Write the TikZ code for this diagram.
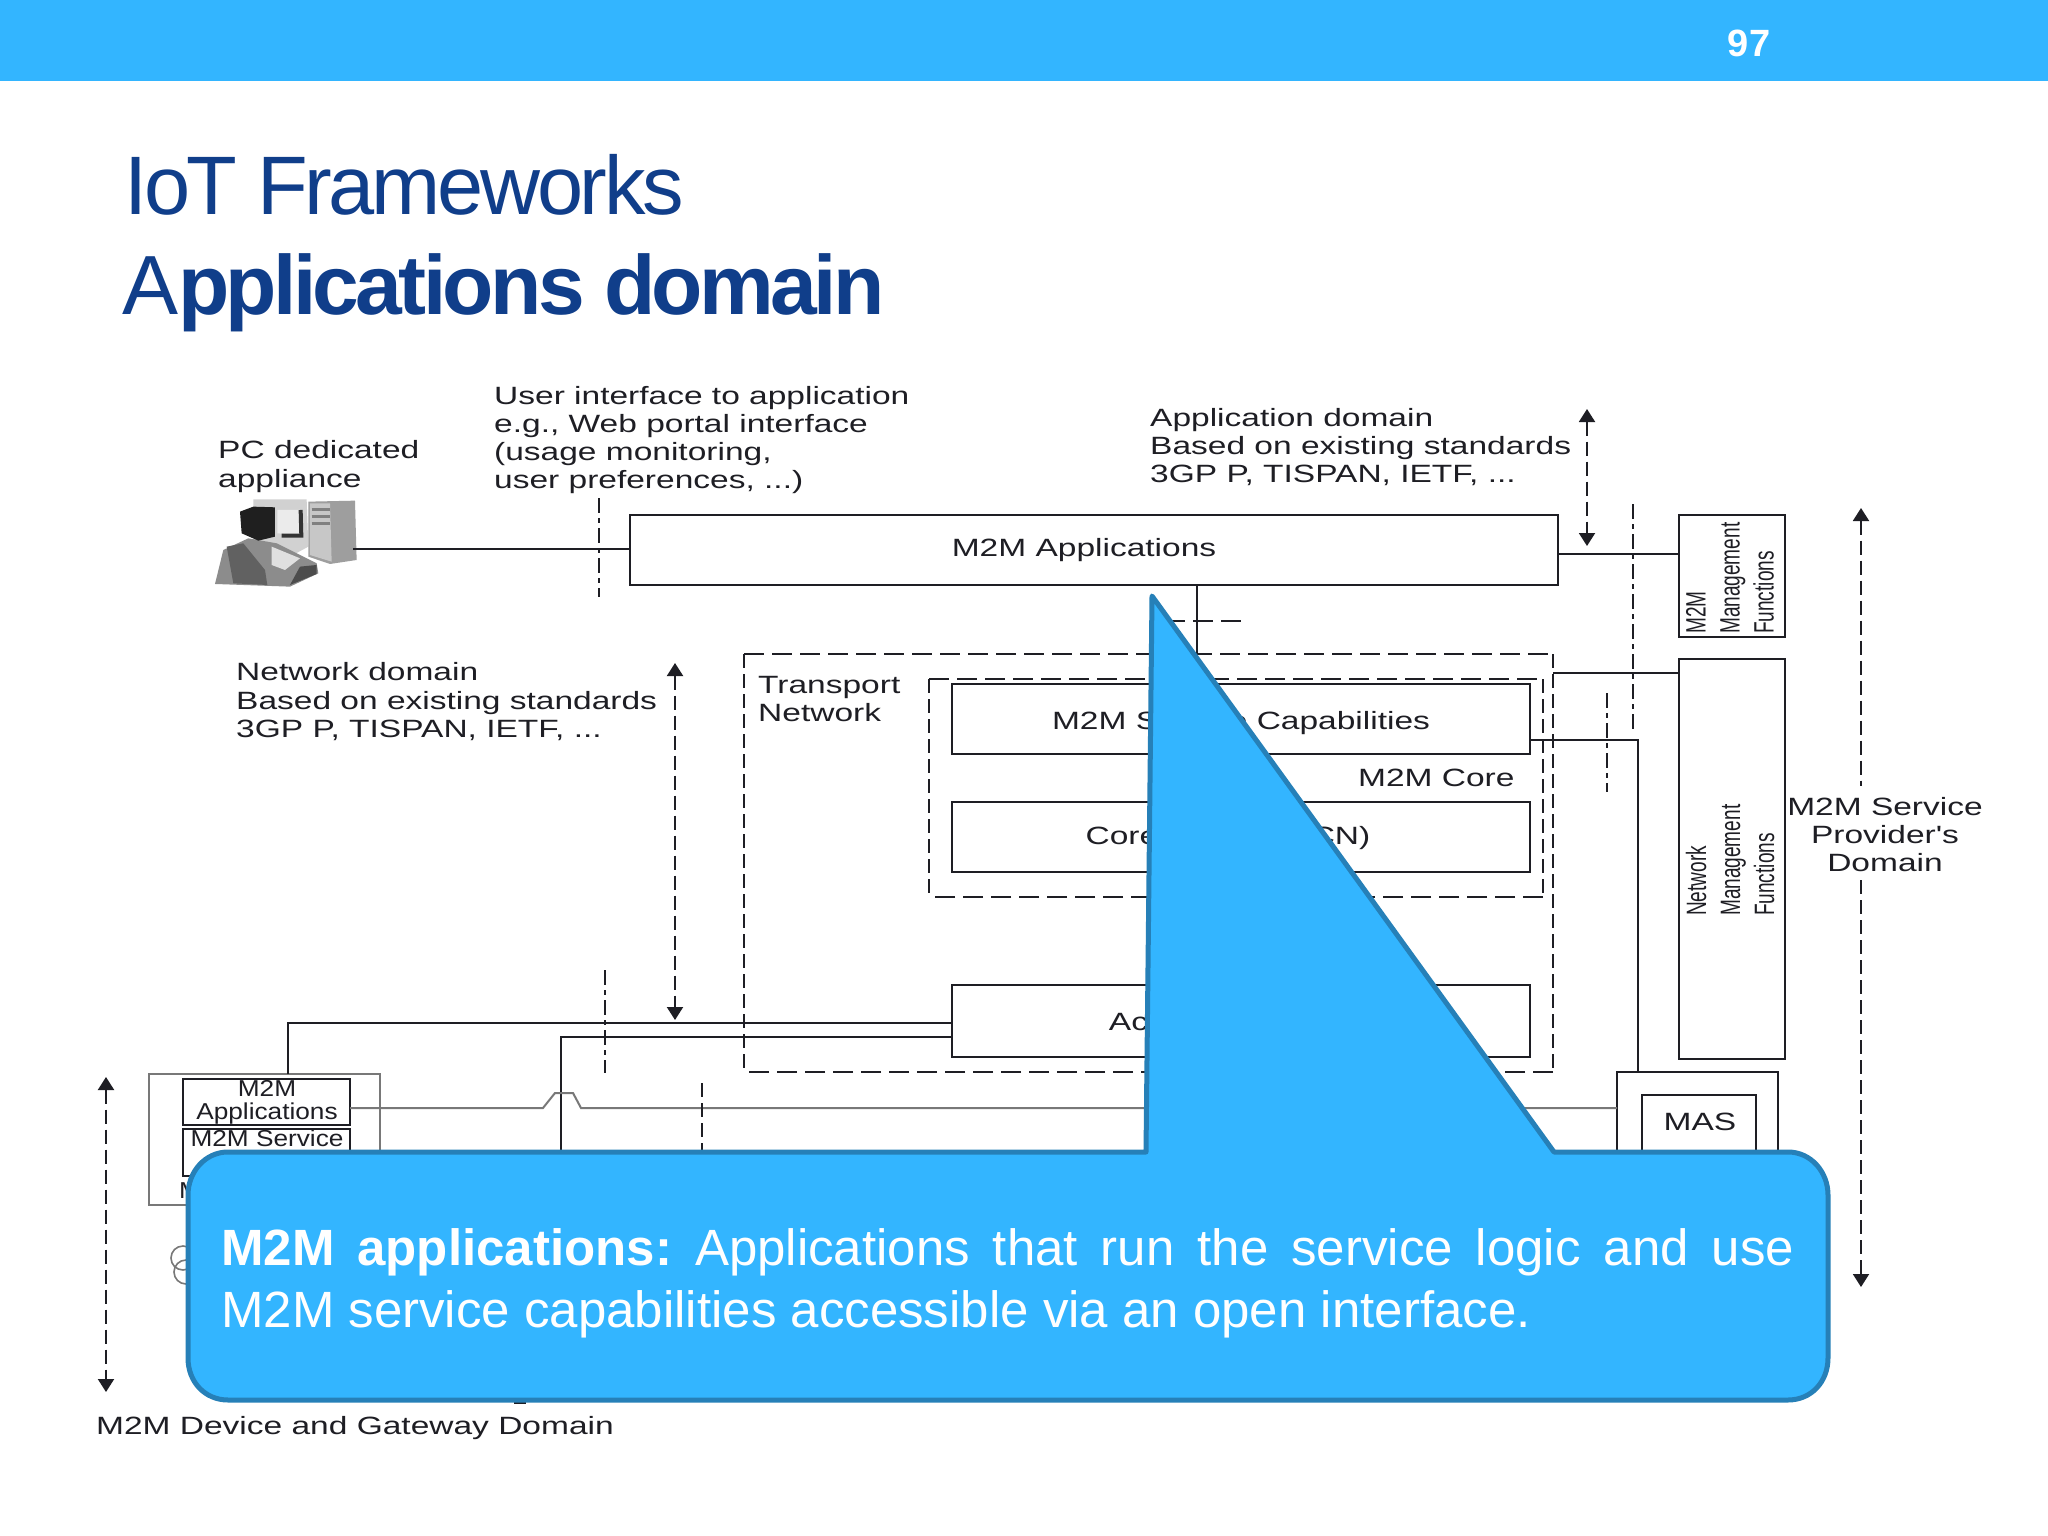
\documentclass[tikz,border=0pt]{standalone}
\usepackage{fontspec}
\setmainfont{Liberation Sans}
\newfontfamily\wide[FakeStretch=1.34]{Liberation Sans}
\newfontfamily\midw[FakeStretch=1.14]{Liberation Sans}
\newfontfamily\narrow[FakeStretch=0.68]{Liberation Sans}
\usetikzlibrary{arrows.meta,positioning}
\definecolor{barblue}{RGB}{51,181,255}
\definecolor{edgeblue}{RGB}{38,128,184}
\definecolor{titleblue}{RGB}{16,62,138}
\definecolor{ink}{RGB}{30,30,36}
\definecolor{wire}{RGB}{120,120,120}
\tikzset{
  x=1pt,y=-1pt,
  box/.style={draw=ink,line width=2.4pt,fill=white,anchor=north west,inner sep=0pt,outer sep=0pt},
  zone/.style={anchor=north west,inner sep=0pt,outer sep=0pt},
  lbl/.style={anchor=base west,inner sep=0pt,text=ink,font=\wide\fontsize{25}{29}\selectfont},
  clbl/.style={anchor=base,inner sep=0pt,text=ink,font=\wide\fontsize{25}{29}\selectfont},
  small/.style={anchor=base,inner sep=0pt,text=ink,font=\midw\fontsize{23}{23}\selectfont},
  rlbl/.style={rotate=90,anchor=west,inner sep=0pt,text=ink,align=left,font=\narrow\fontsize{28}{34}\selectfont},
  line/.style={draw=ink,line width=2pt},
  gline/.style={draw=wire,line width=2pt},
  dh/.style={draw=ink,line width=2pt,dash pattern=on 20pt off 8pt},
  dv/.style={draw=ink,line width=2pt,dash pattern=on 14pt off 6pt},
  dd/.style={draw=ink,line width=2.4pt,dash pattern=on 15pt off 5pt on 5pt off 5pt},
  both/.style={draw=ink,line width=2pt,dash pattern=on 14pt off 6pt,{Triangle[width=16pt,length=13pt]}-{Triangle[width=16pt,length=13pt]}},
}
\begin{document}
\frenchspacing
\begin{tikzpicture}
\useasboundingbox (0,0) rectangle (2048,1536);
\fill[white] (0,0) rectangle (2048,1536);
% header
\fill[barblue] (0,0) rectangle (2048,81);
\node[anchor=base,inner sep=0pt,text=white,font=\bfseries\fontsize{38}{38}\selectfont] (page) at (1749,57) {97};
\node[anchor=base west,inner sep=0pt,text=titleblue,font=\fontsize{83}{83}\selectfont] (t1) at (124,214) {\addfontfeature{LetterSpace=-4}IoT Frameworks};
\node[anchor=base west,inner sep=0pt,text=titleblue,font=\fontsize{84}{84}\selectfont] (t2) at (122,314) {A\textbf{\addfontfeature{LetterSpace=-4.4}pplications domain}};

% PC appliance picture
\begin{scope}[shift={(190,370)},x=0.3333pt,y=-0.3333pt]
\fill[black!18] (190,388) -- (350,388) -- (355,530) -- (300,560) -- (190,530) -- cycle;
\fill[black!38] (355,395) -- (495,392) -- (500,570) -- (420,582) -- (355,560) -- cycle;
\fill[black!22] (360,400) -- (420,400) -- (425,575) -- (360,555) -- cycle;
\foreach \yy in {420,440,460}{\draw[black!50,line width=3pt] (365,\yy) -- (420,\yy);}
\fill[black!45] (100,540) -- (175,505) -- (260,520) -- (380,580) -- (385,610) -- (300,650) -- (75,642) -- cycle;
\fill[black!88] (150,425) -- (190,410) -- (255,412) -- (255,500) -- (205,512) -- (155,490) -- cycle;
\fill[black!8] (262,420) -- (335,420) -- (335,495) -- (262,490) -- cycle;
\draw[black!80,line width=4pt] (332,420) -- (334,497) -- (275,497);
\fill[black!12] (245,530) -- (330,565) -- (285,600) -- (245,585) -- cycle;
\fill[black!70] (330,590) -- (380,585) -- (380,612) -- (300,645) -- cycle;
\fill[black!62] (110,530) -- (160,520) -- (225,600) -- (232,645) -- (130,640) -- cycle;
\end{scope}
\coordinate (pc) at (353,549);

% boxes
\node[box,minimum width=928pt,minimum height=70pt] (apps) at (630,515) {};
\node[zone,minimum width=809pt,minimum height=418pt] (tn) at (744,654) {};
\node[zone,minimum width=614pt,minimum height=218pt] (core) at (929,679) {};
\node[box,minimum width=578pt,minimum height=70pt] (sc) at (952,684) {};
\node[box,minimum width=578pt,minimum height=70pt] (cn) at (952,802) {};
\node[box,minimum width=578pt,minimum height=72pt] (an) at (952,985) {};
\node[box,minimum width=106pt,minimum height=122pt] (mmf) at (1679,515) {};
\node[box,minimum width=106pt,minimum height=400pt] (nmf) at (1679,659) {};
\node[box,minimum width=161pt,minimum height=110pt] (masout) at (1617,1072) {};
\node[box,minimum width=114pt,minimum height=70pt] (mas) at (1642,1095) {};
\node[clbl] (mastext) at (1700,1130) {MAS};
\node[box,draw=wire,minimum width=231pt,minimum height=131pt] (dev) at (149,1074) {};
\node[box,minimum width=167pt,minimum height=46pt] (devapp) at (183,1079) {};
\node[box,minimum width=167pt,minimum height=47pt] (devsvc) at (183,1129) {};

% box labels
\node[clbl] (appst) at (1084,556) {M2M Applications};
\node[clbl] (sct) at (1241,729) {M2M Service Capabilities};
\node[clbl] (cnt) at (1228,844) {Core Network (CN)};
\node[clbl] (ant) at (1229,1030) {Access Network};

% dashed zones
\draw[dh] (tn.north west) -- (tn.north east);
\draw[dh] (tn.south east) -- (tn.south west);
\draw[dv] (tn.north east) -- (tn.south east);
\draw[dv] (tn.north west) -- (tn.south west);
\draw[dh] (core.north west) -- (core.north east);
\draw[dh] (core.south east) -- (core.south west);
\draw[dv] (core.north east) -- (core.south east);
\draw[dv] (core.north west) -- (core.south west);

% text labels
\node[lbl] (l1a) at (218,458) {PC dedicated};
\node[lbl] (l1b) at (218,487) {appliance};
\node[lbl] (l2a) at (494,404) {User interface to application};
\node[lbl] (l2b) at (494,432) {e.g., Web portal interface};
\node[lbl] (l2c) at (494,460) {(usage monitoring,};
\node[lbl] (l2d) at (494,488) {user preferences, ...)};
\node[lbl] (l3a) at (1150,426) {Application domain};
\node[lbl] (l3b) at (1150,454) {Based on existing standards};
\node[lbl] (l3c) at (1150,482) {3GP P, TISPAN, IETF, ...};
\node[lbl] (l4a) at (236,680) {Network domain};
\node[lbl] (l4b) at (236,709) {Based on existing standards};
\node[lbl] (l4c) at (236,737) {3GP P, TISPAN, IETF, ...};
\node[lbl] (l5a) at (758,693) {Transport};
\node[lbl] (l5b) at (758,721) {Network};
\node[lbl] (l6) at (1358,786) {M2M Core};
\node[clbl] (l7a) at (1885,815) {M2M Service};
\node[clbl] (l7b) at (1885,843) {Provider's};
\node[clbl] (l7c) at (1885,871) {Domain};
\node[lbl] (l8) at (96,1434) {M2M Device and Gateway Domain};
\node[small] (d1) at (267,1096) {M2M};
\node[small] (d2) at (267,1119) {Applications};
\node[small] (d3) at (267,1146) {M2M Service};
\node[small,anchor=base west] (d4) at (179,1198) {M};
\node[rlbl] (r1) at (1730,634) {M2M\\Management\\Functions};
\node[rlbl] (r2) at (1730,916) {Network\\Management\\Functions};

% connectors
\draw[line] (pc) -- (apps.west |- pc);
\draw[line] (apps.east |- 0,554) -- (mmf.west |- 0,554);
\draw[line] (apps.south -| 1197,0) -- (sc.north -| 1197,0);
\draw[line] (tn.north east |- 0,673) -- (nmf.west |- 0,673);
\coordinate (scr) at (sc.east |- 0,740);
\coordinate (bend) at (1638,740);
\draw[line] (scr) -- (bend) -- (bend |- masout.north);
\coordinate (w1) at (288,1023);
\draw[line] (dev.north -| w1) -- (w1) -- (an.west |- w1);
\coordinate (w2) at (561,1037);
\draw[line] (561,1180) -- (w2) -- (an.west |- w2);
\draw[gline] (devapp.east |- 0,1108) -- (543,1108) -- (555,1093) -- (573,1093) -- (581,1108) -- (masout.west |- 0,1108);

% boundary lines
\draw[dd] (599,498) -- (599,597);
\draw[dd] (1633,504) -- (1633,730);
\draw[dd] (1607,693) -- (1607,792);
\draw[dd] (605,970) -- (605,1073);
\draw[dv] (702,1083) -- (702,1180);
\draw[dh] (1165,621) -- (1244,621);

% domain arrows
\draw[both] (1587,409) -- (1587,546);
\draw[both] (675,663) -- (675,1020);
\draw[both] (106,1077) -- (106,1392);
\draw[dv,{Triangle[width=16pt,length=13pt]}-] (1861,508) -- (1861,786);
\draw[dv,-{Triangle[width=16pt,length=13pt]}] (1861,880) -- (1861,1287);

% fragments beside the callout
\draw[wire,line width=1.6pt] (183,1258) circle[radius=12];
\draw[wire,line width=1.6pt] (186,1272) circle[radius=12];
\draw[ink,line width=2pt] (514,1403) -- (526,1403);

% callout
\draw[draw=edgeblue,fill=barblue,line width=5pt,line join=round]
  (228,1152) -- (1146,1152) -- (1152,596) -- (1554,1152) -- (1788,1152)
  .. controls (1811,1152) and (1828,1172) .. (1828,1195)
  -- (1828,1358)
  .. controls (1828,1382) and (1811,1400) .. (1788,1400)
  -- (228,1400)
  .. controls (205,1400) and (188,1382) .. (188,1358)
  -- (188,1195)
  .. controls (188,1172) and (205,1152) .. (228,1152) -- cycle;
\node[anchor=base west,inner sep=0pt,text=white,font=\fontsize{51}{51}\selectfont] (c1) at (221,1265)
  {\makebox[1573pt][s]{\textbf{M2M\ applications:} Applications that run the service logic and use}};
\node[anchor=base west,inner sep=0pt,text=white,font=\fontsize{51}{51}\selectfont] (c2) at (221,1327)
  {M2M service capabilities accessible via an open interface.};
\end{tikzpicture}
\end{document}
